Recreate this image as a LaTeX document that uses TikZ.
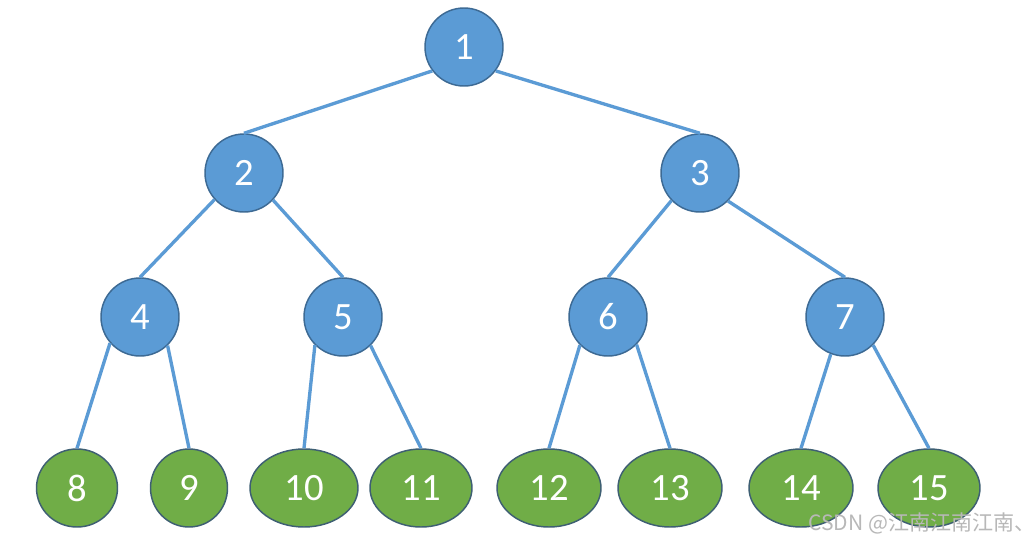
\documentclass[tikz,border=0pt]{standalone}
\usepackage{fontspec}
\setmainfont{Carlito}
\newfontfamily\cjk{Noto Sans CJK SC}
\usetikzlibrary{shapes.geometric}
\definecolor{nblue}{HTML}{5B9BD5}
\definecolor{nblueb}{HTML}{3D6A94}
\definecolor{ngreen}{HTML}{70AD47}
\definecolor{ngreenb}{HTML}{3E5F73}
\tikzset{
  px/.style={x=0.75pt,y=-0.75pt},
  inner/.style={circle,fill=nblue,draw=nblueb,line width=1.1pt,minimum size=58.5pt,inner sep=0pt,
    text=white,font=\fontsize{29}{34}\selectfont},
  leaf/.style={ellipse,fill=ngreen,draw=ngreenb,line width=1.1pt,minimum height=58.5pt,inner sep=0pt,
    text=white,font=\fontsize{29}{34}\selectfont},
  edge/.style={draw=nblue,line width=2.5pt},
  wm/.style={text=black!28,font=\cjk\fontsize{15.8}{18}\selectfont,anchor=west,inner sep=0pt}
}
\begin{document}
\begin{tikzpicture}[px]
\fill[white] (0,0) rectangle (1026,543);
\useasboundingbox (0,0) rectangle (1026,543);
\node[inner] (n1) at (464,47) {1};
\node[inner] (n2) at (244,173) {2};
\node[inner] (n3) at (700,173) {3};
\node[inner] (n4) at (140,317) {4};
\node[inner] (n5) at (343,317) {5};
\node[inner] (n6) at (608,317) {6};
\node[inner] (n7) at (845,317) {7};
\node[leaf,minimum width=60.75pt] (n8) at (77,488) {8};
\node[leaf,minimum width=57.75pt] (n9) at (189,488) {9};
\node[leaf,minimum width=81pt] (n10) at (304,488) {10};
\node[leaf,minimum width=76.5pt] (n11) at (421,488) {11};
\node[leaf,minimum width=78pt] (n12) at (549,488) {12};
\node[leaf,minimum width=78pt] (n13) at (670,488) {13};
\node[leaf,minimum width=78pt] (n14) at (801,488) {14};
\node[leaf,minimum width=76.5pt] (n15) at (929,488) {15};
\draw[edge] (n1.217) -- (n2.north);
\draw[edge] (n1.323) -- (n3.north);
\draw[edge] (n2.222) -- (n4.north);
\draw[edge] (n2.317) -- (n5.north);
\draw[edge] (n3.224) -- (n6.north);
\draw[edge] (n3.315) -- (n7.north);
\draw[edge] (n4.221) -- (n8.north);
\draw[edge] (n4.314) -- (n9.north);
\draw[edge] (n5.225) -- (n10.north);
\draw[edge] (n5.314) -- (n11.north);
\draw[edge] (n6.225) -- (n12.north);
\draw[edge] (n6.316) -- (n13.north);
\draw[edge] (n7.249) -- (n14.north);
\draw[edge] (n7.315) -- (n15.north);
\node[wm] (wm) at (808,523) {CSDN @江南江南江南、};
\end{tikzpicture}
\end{document}
